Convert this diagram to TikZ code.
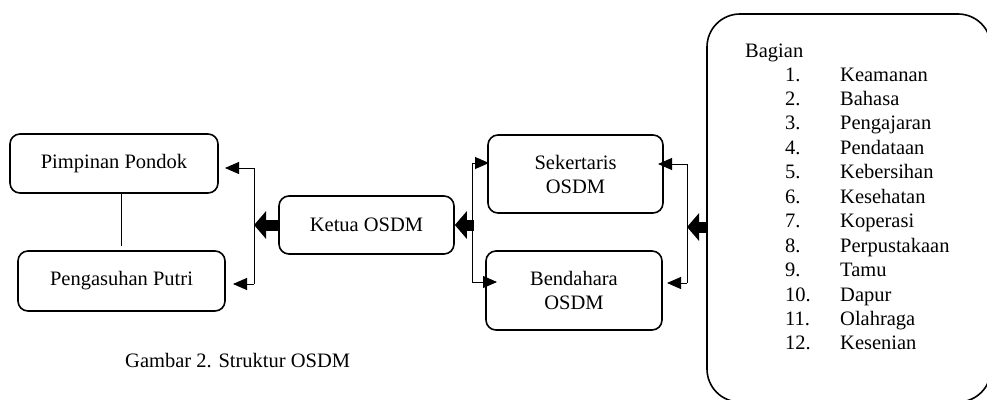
\documentclass[tikz,border=0pt]{standalone}
\usepackage{fontspec}
\setmainfont{Liberation Serif}
\usetikzlibrary{arrows.meta}
\begin{document}
\begin{tikzpicture}[x=1pt,y=-1pt,
  box/.style={draw,line width=1.6pt,rounded corners=10pt,align=center,
    font=\fontsize{20.5}{24}\selectfont,inner sep=0pt},
  conn/.style={line width=0.9pt},
  tipline/.style={conn,-{Triangle[length=14pt,width=12pt]}},
  blockarrow/.style={line width=11pt,-{Triangle[length=12pt,width=27pt]}},
  txt/.style={anchor=base west,inner sep=0pt,font=\fontsize{20.5}{24}\selectfont}
]
\useasboundingbox (0,0) rectangle (987,399);
\fill[white] (0,0) rectangle (987,399);

% boxes
\node[box,minimum width=208pt,minimum height=59pt] (pim) at (114,163.5) {Pimpinan Pondok};
\node[box,minimum width=207pt,minimum height=60pt] (pen) at (121.5,281) {Pengasuhan Putri};
\node[box,minimum width=175pt,minimum height=58pt] (ket) at (366.5,225) {Ketua OSDM};
\node[box,minimum width=175pt,minimum height=78pt] (sek) at (575.5,174) {Sekertaris\\OSDM};
\node[box,minimum width=176pt,minimum height=79pt] (ben) at (574,290.5) {Bendahara\\OSDM};

% big box
\draw[line width=1.6pt,rounded corners=33pt] (707,14) rectangle (991,402);
\coordinate (bag) at (707,227);
\node[txt] (bagian) at (745,57) {Bagian};
\foreach \n/\t [count=\i from 0] in {1/Keamanan,2/Bahasa,3/Pengajaran,4/Pendataan,5/Kebersihan,6/Kesehatan,7/Koperasi,8/Perpustakaan,9/Tamu,10/Dapur,11/Olahraga,12/Kesenian}{
  \node[txt] (num\n) at (785,81+\i*24.45) {\n.};
  \node[txt] (item\n) at (840,81+\i*24.45) {\t};
}

% Pimpinan -- Pengasuhan
\draw[conn] (pen.north |- pim.south) -- ++(0,52);

% left bracket
\coordinate (lt) at (254,168);
\coordinate (lb) at (254,284);
\coordinate (lm) at (254,225);
\coordinate (pimtip) at (225,168);
\coordinate (pentip) at (233,284);
\draw[conn] (lt) -- (lb);
\draw[tipline] (lt) -- (pimtip);
\draw[tipline] (lb) -- (pentip);
\draw[blockarrow] (ket.west) -- (lm);

% middle bracket
\coordinate (mt) at (472,163);
\coordinate (mb) at (472,282);
\coordinate (mm) at (474,225);
\coordinate (sektip) at (489,163);
\coordinate (bentip) at (497,282);
\draw[conn] (mt) -- (mb);
\draw[tipline] (mt) -- (sektip);
\draw[tipline] (mb) -- (bentip);
\draw[blockarrow] (mm) -- (ket.east);

% right bracket
\coordinate (rt) at (687,164);
\coordinate (rb) at (687,283);
\coordinate (rm) at (687,227);
\coordinate (sekin) at (658,164);
\coordinate (benin) at (667,283);
\draw[conn] (rt) -- (rb);
\draw[tipline] (rt) -- (sekin);
\draw[tipline] (rb) -- (benin);
\draw[blockarrow] (bag) -- (rm);

% caption
\node[txt] (cap) at (125,367) {Gambar 2. Struktur OSDM};
\end{tikzpicture}
\end{document}
